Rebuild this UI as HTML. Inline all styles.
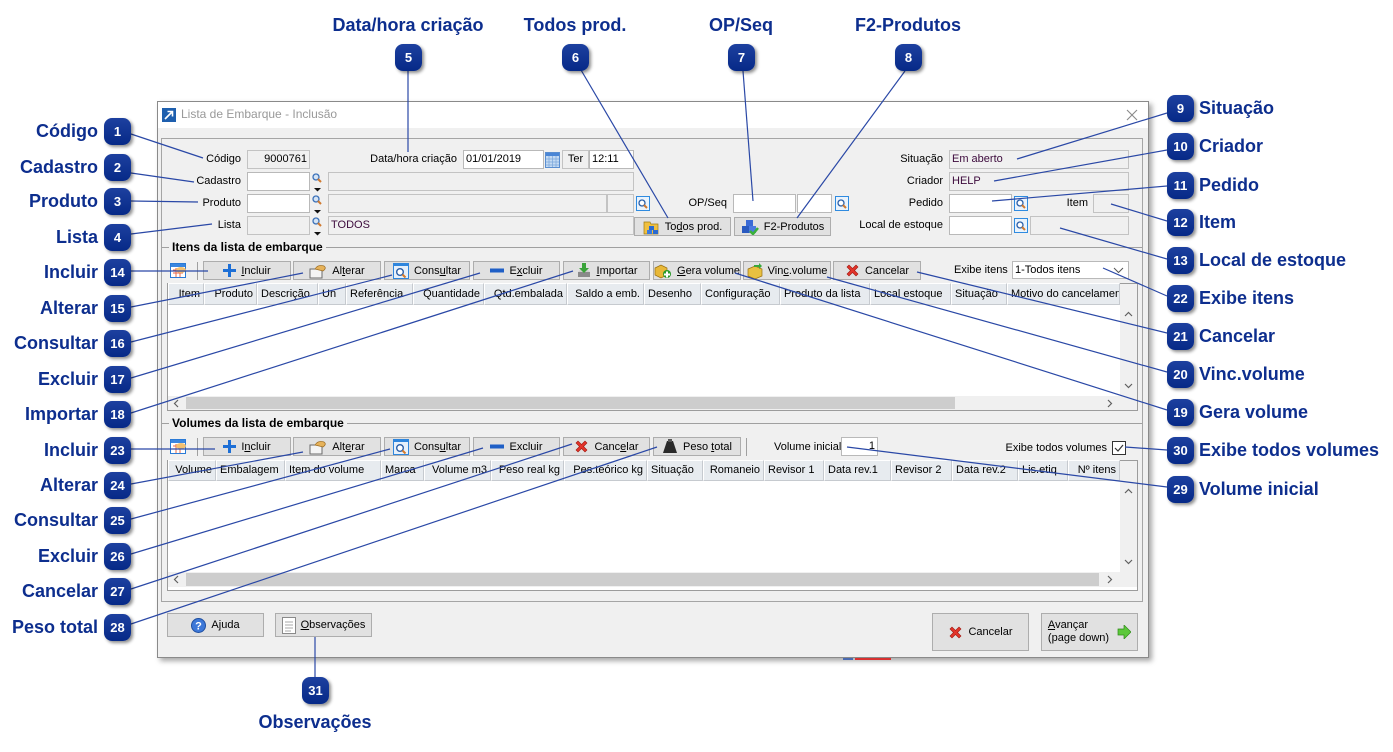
<!DOCTYPE html>
<html><head><meta charset="utf-8">
<style>
*{box-sizing:border-box;margin:0;padding:0}
html,body{width:1393px;height:752px;background:#fff;overflow:hidden;position:relative;font-family:"Liberation Sans",Arial,sans-serif;font-size:11px;color:#000}
.a{position:absolute}
.dlg{position:absolute;left:157px;top:101px;width:992px;height:557px;background:#f0f0f0;border:1px solid #8a8a8a;box-shadow:3px 3px 5px rgba(0,0,0,.35)}
.lb{position:absolute;font-size:11px;line-height:13px;white-space:nowrap}
.r{text-align:right}
.fld{position:absolute;height:19px;border:1px solid #b9b9b9;background:#fff;line-height:17px;padding:0 2px;white-space:nowrap;overflow:hidden;font-size:11px}
.gr{background:#f0f0f0;border-color:#c3c3c3}
.pu{color:#3c0a3c}
.btn{position:absolute;height:19px;background:#e1e1e1;border:1px solid #adadad;display:flex;align-items:center;justify-content:center;gap:5px;white-space:nowrap;font-size:11px}
.bd{position:absolute;width:27px;height:27px;border-radius:8px;background:linear-gradient(#1d409f,#062987);color:#fff;font-weight:bold;font-size:13px;line-height:27px;text-align:center;box-shadow:2px 2px 3px rgba(0,0,0,.45);z-index:5}
.cl{position:absolute;font-weight:bold;font-size:18px;color:#0d2e8e;line-height:22px;white-space:nowrap;z-index:5}
.hd{position:absolute;height:22px;background:#e7ebef;border-right:1px solid #c6cacf;border-left:1px solid #fff;border-top:1px solid #fff;border-bottom:1px solid #c6cacf;line-height:20px;padding:0 3px;white-space:nowrap;overflow:hidden;font-size:11px}
.grid{position:absolute;background:#fff;border:1px solid #9c9c9c}
.sb{position:absolute;background:#f0f0f0}
.th{position:absolute;background:#cdcdcd}
u{text-decoration:underline}
</style></head><body>

<!-- dialog -->
<div class="dlg"></div>
<div class="a" style="left:158px;top:102px;width:990px;height:26px;background:#fff"></div>
<svg class="a" style="left:162px;top:108px" width="14" height="14"><rect width="14" height="14" fill="#1e5fae"/><path d="M3 11L10 4M5.5 3.5h5v5" stroke="#fff" stroke-width="1.6" fill="none"/></svg>
<div class="a" style="left:181px;top:107px;font-size:12px;color:#999;white-space:nowrap">Lista de Embarque - Inclusão</div>
<svg class="a" style="left:1126px;top:109px" width="12" height="12"><path d="M1 1L11 11M11 1L1 11" stroke="#8a8a8a" stroke-width="1.1"/></svg>

<!-- inner frame -->
<div class="a" style="left:161px;top:138px;width:982px;height:464px;border:1px solid #a5a5a5"></div>

<!-- row 1 -->
<div class="lb r" style="left:170px;width:71px;top:153px">Código</div>
<div class="fld gr r" style="left:247px;top:150px;width:63px">9000761</div>
<div class="lb r" style="left:350px;width:107px;top:153px">Data/hora criação</div>
<div class="fld" style="left:463px;top:150px;width:81px">01/01/2019</div>
<svg class="a" style="left:545px;top:151px" width="15" height="18"><rect x=".5" y="1.5" width="14" height="15" fill="#c5dbf3" stroke="#5a8ed0"/><rect x="1" y="2" width="13" height="3" fill="#4a86d6"/><path d="M1 8h13M1 11h13M1 14h13M4 5v11M7.5 5v11M11 5v11" stroke="#7aa6dc" stroke-width=".7"/></svg>
<div class="fld gr" style="left:562px;top:150px;width:27px;text-align:center">Ter</div>
<div class="fld" style="left:589px;top:150px;width:45px">12:11</div>

<!-- row 2 -->
<div class="lb r" style="left:170px;width:71px;top:175px">Cadastro</div>
<div class="fld" style="left:247px;top:172px;width:63px"></div>
<svg class="a" style="left:312px;top:173px" width="11" height="19"><circle cx="4" cy="4" r="3" fill="#d5e4f5" stroke="#3a70b8" stroke-width="1.3"/><path d="M6 6l3 3" stroke="#d07a30" stroke-width="2"/><path d="M2 15h7l-3.5 3.5z" fill="#111"/></svg>
<div class="fld gr" style="left:328px;top:172px;width:306px"></div>

<!-- row 3 -->
<div class="lb r" style="left:170px;width:71px;top:197px">Produto</div>
<div class="fld" style="left:247px;top:194px;width:63px"></div>
<svg class="a" style="left:312px;top:195px" width="11" height="19"><circle cx="4" cy="4" r="3" fill="#d5e4f5" stroke="#3a70b8" stroke-width="1.3"/><path d="M6 6l3 3" stroke="#d07a30" stroke-width="2"/><path d="M2 15h7l-3.5 3.5z" fill="#111"/></svg>
<div class="fld gr" style="left:328px;top:194px;width:279px"></div>
<div class="fld gr" style="left:607px;top:194px;width:27px"></div>
<svg class="a" style="left:636px;top:196px" width="14" height="15"><rect x=".5" y=".5" width="13" height="14" fill="#eaf3fc" stroke="#2f8be0"/><circle cx="6" cy="7" r="3" fill="#fff" stroke="#2b5fa8" stroke-width="1.3"/><path d="M8 9l3 3" stroke="#d07a30" stroke-width="2"/></svg>

<!-- row 4 -->
<div class="lb r" style="left:170px;width:71px;top:219px">Lista</div>
<div class="fld gr" style="left:247px;top:216px;width:63px"></div>
<svg class="a" style="left:312px;top:217px" width="11" height="19"><circle cx="4" cy="4" r="3" fill="#d5e4f5" stroke="#3a70b8" stroke-width="1.3"/><path d="M6 6l3 3" stroke="#d07a30" stroke-width="2"/><path d="M2 15h7l-3.5 3.5z" fill="#111"/></svg>
<div class="fld gr pu" style="left:328px;top:216px;width:306px">TODOS</div>
<div class="btn" style="left:634px;top:217px;width:97px"><svg width="17" height="16"><path d="M1 3h6l1 2h7v10H1z" fill="#f0c040" stroke="#a07a10" stroke-width=".7"/><rect x="6" y="7" width="5" height="4" fill="#2a6ad0"/><rect x="10" y="11" width="5" height="4" fill="#2a6ad0"/><rect x="4" y="11" width="5" height="4" fill="#3a7ae0"/></svg><span>To<u>d</u>os prod.</span></div>
<div class="btn" style="left:734px;top:217px;width:97px"><svg width="18" height="16"><rect x="5" y="1" width="7" height="6" fill="#3a6ad6"/><rect x="1" y="7" width="7" height="7" fill="#2a5ac0"/><rect x="8" y="7" width="7" height="7" fill="#4a7ae0"/><path d="M9 12l3 3 5-6" stroke="#3ab03a" stroke-width="2.5" fill="none"/></svg><span>F2-Produtos</span></div>

<!-- OP/Seq -->
<div class="lb r" style="left:670px;width:57px;top:197px">OP/Seq</div>
<div class="fld" style="left:733px;top:194px;width:63px"></div>
<div class="fld" style="left:797px;top:194px;width:35px"></div>
<svg class="a" style="left:835px;top:196px" width="14" height="15"><rect x=".5" y=".5" width="13" height="14" fill="#eaf3fc" stroke="#2f8be0"/><circle cx="6" cy="7" r="3" fill="#fff" stroke="#2b5fa8" stroke-width="1.3"/><path d="M8 9l3 3" stroke="#d07a30" stroke-width="2"/></svg>

<!-- right fields -->
<div class="lb r" style="left:843px;width:100px;top:153px">Situação</div>
<div class="fld gr pu" style="left:949px;top:150px;width:180px">Em aberto</div>
<div class="lb r" style="left:843px;width:100px;top:175px">Criador</div>
<div class="fld gr pu" style="left:949px;top:172px;width:180px">HELP</div>
<div class="lb r" style="left:843px;width:100px;top:197px">Pedido</div>
<div class="fld" style="left:949px;top:194px;width:63px"></div>
<svg class="a" style="left:1014px;top:196px" width="14" height="15"><rect x=".5" y=".5" width="13" height="14" fill="#eaf3fc" stroke="#2f8be0"/><circle cx="6" cy="7" r="3" fill="#fff" stroke="#2b5fa8" stroke-width="1.3"/><path d="M8 9l3 3" stroke="#d07a30" stroke-width="2"/></svg>
<div class="lb r" style="left:1040px;width:48px;top:197px">Item</div>
<div class="fld gr" style="left:1093px;top:194px;width:36px"></div>
<div class="lb r" style="left:823px;width:120px;top:219px">Local de estoque</div>
<div class="fld" style="left:949px;top:216px;width:63px"></div>
<svg class="a" style="left:1014px;top:218px" width="14" height="15"><rect x=".5" y=".5" width="13" height="14" fill="#eaf3fc" stroke="#2f8be0"/><circle cx="6" cy="7" r="3" fill="#fff" stroke="#2b5fa8" stroke-width="1.3"/><path d="M8 9l3 3" stroke="#d07a30" stroke-width="2"/></svg>
<div class="fld gr" style="left:1030px;top:216px;width:99px"></div>

<!-- Itens section -->
<div class="a" style="left:162px;top:247px;width:980px;height:1px;background:#a0a0a0"></div>
<div class="a" style="left:169px;top:240px;padding:0 3px;background:#f0f0f0;font-weight:bold;font-size:12px;line-height:14px;white-space:nowrap">Itens da lista de embarque</div>

<!-- toolbar 1 -->
<svg class="a" style="left:170px;top:262px" width="17" height="17"><rect x=".5" y="1.5" width="15" height="14" fill="#fff" stroke="#2a7ad6"/><rect x="1" y="2" width="14" height="3" fill="#3a86e0"/><path d="M3 8h10M3 11h10M6 6v9M10 6v9" stroke="#e86a4a"/><ellipse cx="11" cy="8" rx="5" ry="3" fill="#f2c070"/></svg>
<div class="a" style="left:197px;top:262px;width:1px;height:18px;background:#a0a0a0"></div>
<div class="btn" style="left:203px;top:261px;width:88px"><svg width="13" height="13"><path d="M5 0h3v5h5v3H8v5H5V8H0V5h5z" fill="#1d6fd6"/></svg><span><u>I</u>ncluir</span></div>
<div class="btn" style="left:293px;top:261px;width:88px"><svg width="18" height="16"><rect x="1" y="6" width="12" height="9" fill="#f4f4f4" stroke="#6a6a6a"/><path d="M6 6Q9 1 15 3Q18 5 14 8Z" fill="#e6b25a" stroke="#9a6a20" stroke-width=".7"/></svg><span>Al<u>t</u>erar</span></div>
<div class="btn" style="left:384px;top:261px;width:86px"><svg width="16" height="16"><rect x=".5" y=".5" width="15" height="15" fill="#e6f0fb" stroke="#2f86dd"/><rect x="1" y="1" width="14" height="2" fill="#2f86dd"/><circle cx="7" cy="9" r="3.3" fill="#fff" stroke="#2b5fa8" stroke-width="1.4"/><path d="M9.5 11.5l3 3" stroke="#d57a2a" stroke-width="2"/></svg><span>Cons<u>u</u>ltar</span></div>
<div class="btn" style="left:473px;top:261px;width:87px"><svg width="14" height="5"><rect width="14" height="4" y=".5" fill="#1f5fc6"/></svg><span>E<u>x</u>cluir</span></div>
<div class="btn" style="left:563px;top:261px;width:87px"><svg width="16" height="16"><path d="M2 9h12v5H2z" fill="#8a8a8a"/><path d="M2 9l3-3h6l3 3z" fill="#d0d0d0"/><path d="M6 0h4v5h3l-5 5-5-5h3z" fill="#3aa33a"/></svg><span><u>I</u>mportar</span></div>
<div class="btn" style="left:653px;top:261px;width:88px"><svg width="18" height="16"><path d="M1 5l6-3 6 3v7l-6 3-6-3z" fill="#e8b838" stroke="#9a7010" stroke-width=".7"/><circle cx="13" cy="11" r="4" fill="#2a9a2a"/><path d="M12 8.5h2v6h-2zM10 10.5h6v2h-6z" fill="#fff"/></svg><span><u>G</u>era volume</span></div>
<div class="btn" style="left:743px;top:261px;width:88px"><svg width="16" height="16"><path d="M1 6l7-3 7 3v7l-7 3-7-3z" fill="#e8c040" stroke="#9a7010" stroke-width=".7"/><path d="M7 2h5V0l3 3-3 3V4H7z" fill="#3aa83a"/></svg><span>Vin<u>c</u>.volume</span></div>
<div class="btn" style="left:833px;top:261px;width:88px"><svg width="15" height="15"><path d="M2 4l2-2 3.5 3.5L11 2l2 2-3.5 3.5L13 11l-2 2-3.5-3.5L4 13l-2-2 3.5-3.5z" fill="#e2342a" stroke="#a01810" stroke-width=".6"/></svg><span>Cancelar</span></div>
<div class="lb" style="left:954px;top:264px">Exibe itens</div>
<div class="fld" style="left:1012px;top:261px;width:117px;height:18px;line-height:16px">1-Todos itens</div>
<svg class="a" style="left:1113px;top:267px" width="11" height="7"><path d="M1 1l4.5 4.5L10 1" stroke="#555" fill="none"/></svg>

<!-- grid 1 -->
<div class="grid" style="left:167px;top:283px;width:971px;height:128px"></div>
<div class="hd r" style="left:168px;top:283px;width:36px">Item</div>
<div class="hd r" style="left:204px;top:283px;width:53px">Produto</div>
<div class="hd" style="left:257px;top:283px;width:61px">Descrição</div>
<div class="hd" style="left:318px;top:283px;width:28px">Un</div>
<div class="hd" style="left:346px;top:283px;width:67px">Referência</div>
<div class="hd r" style="left:413px;top:283px;width:71px">Quantidade</div>
<div class="hd r" style="left:484px;top:283px;width:83px">Qtd.embalada</div>
<div class="hd r" style="left:567px;top:283px;width:77px">Saldo a emb.</div>
<div class="hd" style="left:644px;top:283px;width:57px">Desenho</div>
<div class="hd" style="left:701px;top:283px;width:79px">Configuração</div>
<div class="hd" style="left:780px;top:283px;width:90px">Produto da lista</div>
<div class="hd" style="left:870px;top:283px;width:81px">Local estoque</div>
<div class="hd" style="left:951px;top:283px;width:56px">Situação</div>
<div class="hd" style="left:1007px;top:283px;width:113px">Motivo do cancelamento</div>
<div class="sb" style="left:1120px;top:284px;width:17px;height:112px"></div>
<svg class="a" style="left:1124px;top:311px" width="9" height="6"><path d="M1 5l3.5-3.5L8 5" stroke="#606060" fill="none" stroke-width="1.2"/></svg>
<svg class="a" style="left:1124px;top:383px" width="9" height="6"><path d="M1 1l3.5 3.5L8 1" stroke="#606060" fill="none" stroke-width="1.2"/></svg>
<div class="sb" style="left:168px;top:396px;width:969px;height:14px"></div>
<div class="th" style="left:186px;top:397px;width:769px;height:12px"></div>
<svg class="a" style="left:173px;top:399px" width="6" height="9"><path d="M5 1L1.5 4.5L5 8" stroke="#606060" fill="none" stroke-width="1.2"/></svg>
<svg class="a" style="left:1107px;top:399px" width="6" height="9"><path d="M1 1l3.5 3.5L1 8" stroke="#606060" fill="none" stroke-width="1.2"/></svg>

<!-- Volumes section -->
<div class="a" style="left:162px;top:423px;width:980px;height:1px;background:#a0a0a0"></div>
<div class="a" style="left:169px;top:416px;padding:0 3px;background:#f0f0f0;font-weight:bold;font-size:12px;line-height:14px;white-space:nowrap">Volumes da lista de embarque</div>

<!-- toolbar 2 -->
<svg class="a" style="left:170px;top:438px" width="17" height="17"><rect x=".5" y="1.5" width="15" height="14" fill="#fff" stroke="#2a7ad6"/><rect x="1" y="2" width="14" height="3" fill="#3a86e0"/><path d="M3 8h10M3 11h10M6 6v9M10 6v9" stroke="#e86a4a"/><ellipse cx="11" cy="8" rx="5" ry="3" fill="#f2c070"/></svg>
<div class="a" style="left:197px;top:438px;width:1px;height:18px;background:#a0a0a0"></div>
<div class="btn" style="left:203px;top:437px;width:88px"><svg width="13" height="13"><path d="M5 0h3v5h5v3H8v5H5V8H0V5h5z" fill="#1d6fd6"/></svg><span>I<u>n</u>cluir</span></div>
<div class="btn" style="left:293px;top:437px;width:88px"><svg width="18" height="16"><rect x="1" y="6" width="12" height="9" fill="#f4f4f4" stroke="#6a6a6a"/><path d="M6 6Q9 1 15 3Q18 5 14 8Z" fill="#e6b25a" stroke="#9a6a20" stroke-width=".7"/></svg><span>Alt<u>e</u>rar</span></div>
<div class="btn" style="left:384px;top:437px;width:86px"><svg width="16" height="16"><rect x=".5" y=".5" width="15" height="15" fill="#e6f0fb" stroke="#2f86dd"/><rect x="1" y="1" width="14" height="2" fill="#2f86dd"/><circle cx="7" cy="9" r="3.3" fill="#fff" stroke="#2b5fa8" stroke-width="1.4"/><path d="M9.5 11.5l3 3" stroke="#d57a2a" stroke-width="2"/></svg><span>Cons<u>u</u>ltar</span></div>
<div class="btn" style="left:473px;top:437px;width:87px"><svg width="14" height="5"><rect width="14" height="4" y=".5" fill="#1f5fc6"/></svg><span>Excluir</span></div>
<div class="btn" style="left:563px;top:437px;width:87px"><svg width="15" height="15"><path d="M2 4l2-2 3.5 3.5L11 2l2 2-3.5 3.5L13 11l-2 2-3.5-3.5L4 13l-2-2 3.5-3.5z" fill="#e2342a" stroke="#a01810" stroke-width=".6"/></svg><span>Canc<u>e</u>lar</span></div>
<div class="btn" style="left:653px;top:437px;width:88px"><svg width="16" height="15"><path d="M5 2h6l4 12H1z" fill="#2a2a2a"/><rect x="6" y="0" width="4" height="3" fill="#555"/></svg><span>Peso <u>t</u>otal</span></div>
<div class="a" style="left:746px;top:438px;width:1px;height:18px;background:#a0a0a0"></div>
<div class="lb" style="left:774px;top:441px">Volume inicial</div>
<div class="fld r" style="left:841px;top:437px;width:37px">1</div>
<div class="lb r" style="left:987px;width:120px;top:442px">Exibe todos volumes</div>
<svg class="a" style="left:1112px;top:441px" width="14" height="14"><rect x=".5" y=".5" width="13" height="13" fill="#fff" stroke="#333"/><path d="M3 7l3 3 5-6" stroke="#333" fill="none" stroke-width="1.2"/></svg>

<!-- grid 2 -->
<div class="grid" style="left:167px;top:460px;width:971px;height:131px"></div>
<div class="hd r" style="left:168px;top:460px;width:48px;height:21px;line-height:19px">Volume</div>
<div class="hd" style="left:216px;top:460px;width:69px;height:21px;line-height:19px">Embalagem</div>
<div class="hd" style="left:285px;top:460px;width:96px;height:21px;line-height:19px">Item do volume</div>
<div class="hd" style="left:381px;top:460px;width:43px;height:21px;line-height:19px">Marca</div>
<div class="hd r" style="left:424px;top:460px;width:67px;height:21px;line-height:19px">Volume m3</div>
<div class="hd r" style="left:491px;top:460px;width:73px;height:21px;line-height:19px">Peso real kg</div>
<div class="hd r" style="left:564px;top:460px;width:83px;height:21px;line-height:19px">Pes.teórico kg</div>
<div class="hd" style="left:647px;top:460px;width:56px;height:21px;line-height:19px">Situação</div>
<div class="hd r" style="left:703px;top:460px;width:61px;height:21px;line-height:19px">Romaneio</div>
<div class="hd" style="left:764px;top:460px;width:60px;height:21px;line-height:19px">Revisor 1</div>
<div class="hd" style="left:824px;top:460px;width:67px;height:21px;line-height:19px">Data rev.1</div>
<div class="hd" style="left:891px;top:460px;width:61px;height:21px;line-height:19px">Revisor 2</div>
<div class="hd" style="left:952px;top:460px;width:66px;height:21px;line-height:19px">Data rev.2</div>
<div class="hd" style="left:1018px;top:460px;width:50px;height:21px;line-height:19px">Lis.etiq</div>
<div class="hd r" style="left:1068px;top:460px;width:52px;height:21px;line-height:19px">Nº itens</div>
<div class="sb" style="left:1120px;top:461px;width:17px;height:111px"></div>
<svg class="a" style="left:1124px;top:488px" width="9" height="6"><path d="M1 5l3.5-3.5L8 5" stroke="#606060" fill="none" stroke-width="1.2"/></svg>
<svg class="a" style="left:1124px;top:559px" width="9" height="6"><path d="M1 1l3.5 3.5L8 1" stroke="#606060" fill="none" stroke-width="1.2"/></svg>
<div class="sb" style="left:168px;top:572px;width:969px;height:15px"></div>
<div class="th" style="left:186px;top:573px;width:913px;height:13px"></div>
<svg class="a" style="left:173px;top:575px" width="6" height="9"><path d="M5 1L1.5 4.5L5 8" stroke="#606060" fill="none" stroke-width="1.2"/></svg>
<svg class="a" style="left:1107px;top:575px" width="6" height="9"><path d="M1 1l3.5 3.5L1 8" stroke="#606060" fill="none" stroke-width="1.2"/></svg>

<!-- bottom buttons -->
<div class="btn" style="left:167px;top:613px;width:97px;height:24px"><svg width="15" height="15"><circle cx="7.5" cy="7.5" r="7" fill="#3d78d8" stroke="#1e4ea0"/><text x="7.5" y="11.5" font-size="11" font-weight="bold" fill="#fff" text-anchor="middle" font-family="Liberation Sans">?</text></svg><span>A<u>j</u>uda</span></div>
<div class="btn" style="left:275px;top:613px;width:97px;height:24px"><svg width="14" height="17"><rect x=".5" y=".5" width="13" height="16" fill="#fff" stroke="#8a8a8a"/><path d="M3 5h8M3 8h8M3 11h8M3 14h6" stroke="#aaa"/></svg><span><u>O</u>bservações</span></div>
<div class="btn" style="left:932px;top:613px;width:97px;height:38px"><svg width="15" height="15"><path d="M2 4l2-2 3.5 3.5L11 2l2 2-3.5 3.5L13 11l-2 2-3.5-3.5L4 13l-2-2 3.5-3.5z" fill="#e2342a" stroke="#a01810" stroke-width=".6"/></svg><span>Cancelar</span></div>
<div class="btn" style="left:1041px;top:613px;width:97px;height:38px;gap:8px"><span style="line-height:13px"><u>A</u>vançar<br>(page down)</span><svg width="14" height="14"><path d="M1 4h6V0l7 7-7 7v-4H1z" fill="#5cc83a" stroke="#2f8a1a" stroke-width=".7"/></svg></div>

<!-- artifacts below dialog -->
<div class="a" style="left:843px;top:658px;width:10px;height:2px;background:#4a6ab0"></div>
<div class="a" style="left:855px;top:658px;width:36px;height:2px;background:#d83030"></div>

<!-- connectors -->
<svg class="a" style="left:0;top:0;z-index:3" width="1393" height="752">
<g stroke="#2a48a6" stroke-width="1.2" fill="none">
<line x1="131" y1="134" x2="203" y2="158"/>
<line x1="131" y1="173" x2="194" y2="182"/>
<line x1="131" y1="201" x2="198" y2="202"/>
<line x1="131" y1="234" x2="212" y2="224"/>
<line x1="408" y1="71" x2="408" y2="152"/>
<line x1="581" y1="70" x2="668" y2="218"/>
<line x1="743" y1="71" x2="753" y2="201"/>
<line x1="905" y1="71" x2="797" y2="218"/>
<line x1="1167" y1="113" x2="1017" y2="159"/>
<line x1="1167" y1="150" x2="994" y2="181"/>
<line x1="1167" y1="186" x2="992" y2="201"/>
<line x1="1167" y1="221" x2="1111" y2="204"/>
<line x1="1167" y1="259" x2="1060" y2="228"/>
<line x1="131" y1="271" x2="208" y2="271"/>
<line x1="131" y1="307" x2="303" y2="273"/>
<line x1="131" y1="342" x2="392" y2="275"/>
<line x1="131" y1="378" x2="480" y2="273"/>
<line x1="131" y1="413" x2="573" y2="271"/>
<line x1="1167" y1="410" x2="735" y2="273"/>
<line x1="1167" y1="372" x2="827" y2="277"/>
<line x1="1167" y1="333" x2="917" y2="272"/>
<line x1="1167" y1="296" x2="1103" y2="268"/>
<line x1="131" y1="449" x2="215" y2="449"/>
<line x1="131" y1="484" x2="303" y2="452"/>
<line x1="131" y1="519" x2="390" y2="449"/>
<line x1="131" y1="554" x2="483" y2="448"/>
<line x1="131" y1="589" x2="572" y2="444"/>
<line x1="131" y1="624" x2="657" y2="447"/>
<line x1="1167" y1="487" x2="847" y2="447"/>
<line x1="1167" y1="450" x2="1125" y2="447"/>
<line x1="315" y1="637" x2="315" y2="677"/>
</g></svg>

<!-- left badges -->
<div class="bd" style="left:104px;top:118px">1</div><div class="cl r" style="left:0;width:98px;top:120px">Código</div>
<div class="bd" style="left:104px;top:154px">2</div><div class="cl r" style="left:0;width:98px;top:156px">Cadastro</div>
<div class="bd" style="left:104px;top:188px">3</div><div class="cl r" style="left:0;width:98px;top:190px">Produto</div>
<div class="bd" style="left:104px;top:224px">4</div><div class="cl r" style="left:0;width:98px;top:226px">Lista</div>
<div class="bd" style="left:104px;top:259px">14</div><div class="cl r" style="left:0;width:98px;top:261px">Incluir</div>
<div class="bd" style="left:104px;top:295px">15</div><div class="cl r" style="left:0;width:98px;top:297px">Alterar</div>
<div class="bd" style="left:104px;top:330px">16</div><div class="cl r" style="left:0;width:98px;top:332px">Consultar</div>
<div class="bd" style="left:104px;top:366px">17</div><div class="cl r" style="left:0;width:98px;top:368px">Excluir</div>
<div class="bd" style="left:104px;top:401px">18</div><div class="cl r" style="left:0;width:98px;top:403px">Importar</div>
<div class="bd" style="left:104px;top:437px">23</div><div class="cl r" style="left:0;width:98px;top:439px">Incluir</div>
<div class="bd" style="left:104px;top:472px">24</div><div class="cl r" style="left:0;width:98px;top:474px">Alterar</div>
<div class="bd" style="left:104px;top:507px">25</div><div class="cl r" style="left:0;width:98px;top:509px">Consultar</div>
<div class="bd" style="left:104px;top:543px">26</div><div class="cl r" style="left:0;width:98px;top:545px">Excluir</div>
<div class="bd" style="left:104px;top:578px">27</div><div class="cl r" style="left:0;width:98px;top:580px">Cancelar</div>
<div class="bd" style="left:104px;top:614px">28</div><div class="cl r" style="left:0;width:98px;top:616px">Peso total</div>

<!-- right badges -->
<div class="bd" style="left:1167px;top:95px">9</div><div class="cl" style="left:1199px;top:97px">Situação</div>
<div class="bd" style="left:1167px;top:133px">10</div><div class="cl" style="left:1199px;top:135px">Criador</div>
<div class="bd" style="left:1167px;top:172px">11</div><div class="cl" style="left:1199px;top:174px">Pedido</div>
<div class="bd" style="left:1167px;top:209px">12</div><div class="cl" style="left:1199px;top:211px">Item</div>
<div class="bd" style="left:1167px;top:247px">13</div><div class="cl" style="left:1199px;top:249px">Local de estoque</div>
<div class="bd" style="left:1167px;top:285px">22</div><div class="cl" style="left:1199px;top:287px">Exibe itens</div>
<div class="bd" style="left:1167px;top:323px">21</div><div class="cl" style="left:1199px;top:325px">Cancelar</div>
<div class="bd" style="left:1167px;top:361px">20</div><div class="cl" style="left:1199px;top:363px">Vinc.volume</div>
<div class="bd" style="left:1167px;top:399px">19</div><div class="cl" style="left:1199px;top:401px">Gera volume</div>
<div class="bd" style="left:1167px;top:437px">30</div><div class="cl" style="left:1199px;top:439px">Exibe todos volumes</div>
<div class="bd" style="left:1167px;top:476px">29</div><div class="cl" style="left:1199px;top:478px">Volume inicial</div>

<!-- top badges -->
<div class="bd" style="left:395px;top:44px">5</div><div class="cl" style="left:308px;width:200px;top:14px;text-align:center">Data/hora criação</div>
<div class="bd" style="left:562px;top:44px">6</div><div class="cl" style="left:475px;width:200px;top:14px;text-align:center">Todos prod.</div>
<div class="bd" style="left:728px;top:44px">7</div><div class="cl" style="left:641px;width:200px;top:14px;text-align:center">OP/Seq</div>
<div class="bd" style="left:895px;top:44px">8</div><div class="cl" style="left:808px;width:200px;top:14px;text-align:center">F2-Produtos</div>

<!-- bottom badge -->
<div class="bd" style="left:302px;top:677px">31</div><div class="cl" style="left:215px;width:200px;top:711px;text-align:center">Observações</div>

</body></html>
